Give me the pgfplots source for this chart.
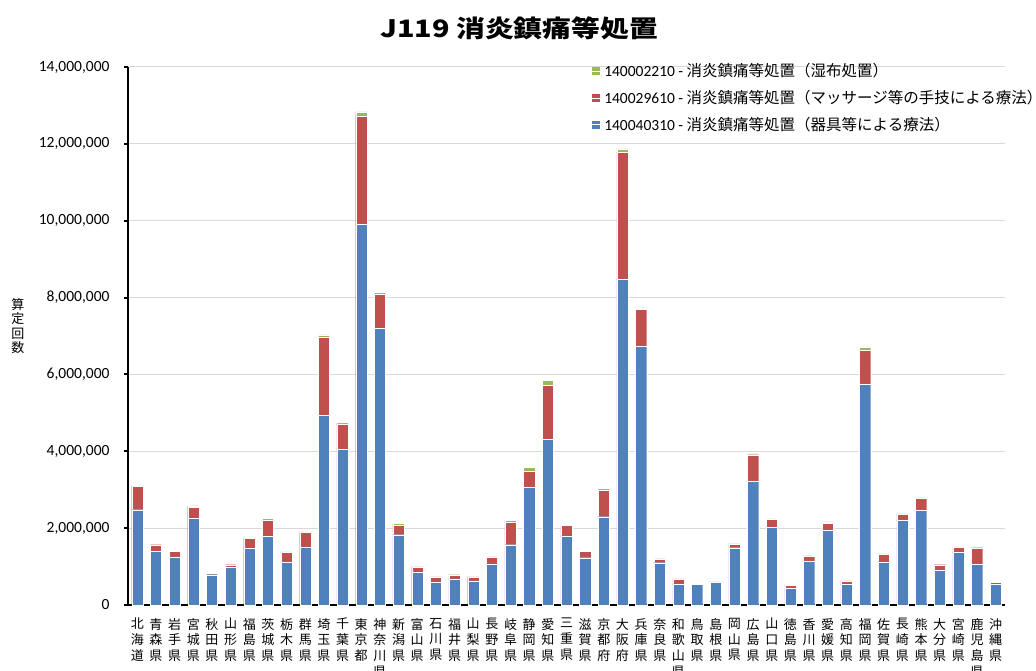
\documentclass[border=0pt]{standalone}
\usepackage{pgfplots}
\pgfplotsset{compat=1.18}
\usepackage{pgfplotstable}
\usepackage{fontspec}
\setmainfont{Carlito}
\newfontfamily\cjk{Noto Sans CJK JP}
\definecolor{cblue}{HTML}{4F81BD}
\definecolor{cred}{HTML}{C0504D}
\definecolor{cgreen}{HTML}{9BBB59}
\definecolor{cgrid}{HTML}{D9D9D9}

\pgfplotstableread{
idx blue red green
0 2480000 610000 20000
1 1390000 180000 10000
2 1240000 150000 10000
3 2250000 300000 30000
4 790000 30000 10000
5 980000 70000 10000
6 1470000 260000 10000
7 1800000 410000 50000
8 1110000 260000 10000
9 1500000 390000 10000
10 4930000 2050000 50000
11 4050000 670000 40000
12 9910000 2820000 100000
13 7210000 890000 40000
14 1830000 250000 50000
15 850000 140000 10000
16 590000 140000 10000
17 680000 100000 10000
18 630000 100000 10000
19 1060000 190000 10000
20 1570000 590000 40000
21 3060000 430000 90000
22 4310000 1410000 130000
23 1800000 270000 10000
24 1230000 160000 10000
25 2300000 700000 40000
26 8470000 3310000 90000
27 6730000 970000 30000
28 1100000 100000 20000
29 550000 130000 20000
30 540000 20000 10000
31 600000 20000 20000
32 1490000 100000 10000
33 3220000 690000 20000
34 2020000 210000 10000
35 440000 80000 20000
36 1130000 150000 20000
37 1950000 180000 30000
38 540000 90000 20000
39 5750000 880000 70000
40 1120000 200000 10000
41 2200000 170000 10000
42 2470000 320000 10000
43 900000 150000 10000
44 1370000 130000 10000
45 1070000 420000 10000
46 540000 50000 30000
}\datatable

\begin{document}
\begin{tikzpicture}
\useasboundingbox (0,0) rectangle (1036pt,670pt);
\node[font={\cjk\bfseries\fontsize{24}{27}\selectfont}] at (519pt,642pt) {\scalebox{1.2}[1]{J119 消炎鎮痛等処置}};
\node[font={\cjk\fontsize{13}{14.5}\selectfont}, align=center] at (18pt,344pt) {算\\定\\回\\数};
\begin{axis}[
  at={(128pt,65pt)}, anchor=south west,
  scale only axis, width=877pt, height=538pt,
  ybar stacked, bar width=0.6,
  xmin=-0.5, xmax=46.5, ymin=0, ymax=14000000,
  axis lines=left,
  axis line style={-, line width=2.5pt, black},
  ytick={0,2000000,...,14000000},
  scaled y ticks=false,
  yticklabel style={/pgf/number format/fixed, /pgf/number format/1000 sep={,}, /pgf/number format/assume math mode=true, font=\fontsize{15.5}{17}\selectfont, xshift=-11pt},
  ymajorgrids, grid style={cgrid, line width=1pt},
  tick align=outside,
  major tick length=4pt,
  ytick style={black, line width=2pt},
  xtick={0,...,46},
  xtick style={draw=none},
  minor xtick={-0.5,0.5,...,46.5},
  minor tick length=4pt,
  minor x tick style={black, line width=1.5pt},
  xticklabels={{北\\海\\道},{青\\森\\県},{岩\\手\\県},{宮\\城\\県},{秋\\田\\県},{山\\形\\県},{福\\島\\県},{茨\\城\\県},{栃\\木\\県},{群\\馬\\県},{埼\\玉\\県},{千\\葉\\県},{東\\京\\都},{神\\奈\\川\\県},{新\\潟\\県},{富\\山\\県},{石\\川\\県},{福\\井\\県},{山\\梨\\県},{長\\野\\県},{岐\\阜\\県},{静\\岡\\県},{愛\\知\\県},{三\\重\\県},{滋\\賀\\県},{京\\都\\府},{大\\阪\\府},{兵\\庫\\県},{奈\\良\\県},{和\\歌\\山\\県},{鳥\\取\\県},{島\\根\\県},{岡\\山\\県},{広\\島\\県},{山\\口\\県},{徳\\島\\県},{香\\川\\県},{愛\\媛\\県},{高\\知\\県},{福\\岡\\県},{佐\\賀\\県},{長\\崎\\県},{熊\\本\\県},{大\\分\\県},{宮\\崎\\県},{鹿\\児\\島\\県},{沖\\縄\\県}},
  xticklabel style={font={\cjk\fontsize{13}{15.7}\selectfont}, align=center, anchor=north, inner sep=0pt, yshift=-9pt},
  reverse legend,
  legend cell align=left,
  legend style={at={(axis description cs:0.5255,1.014)}, anchor=north west, draw=none, fill=none,
     font=\fontsize{15.5}{17}\selectfont, row sep=8pt},
  legend image code/.code={\fill[#1, draw=none] (0pt,-4pt) rectangle (8pt,4pt); \path (0pt,0pt) -- (10pt,0pt);},
]
\addplot[fill=cblue, draw=white, line width=0.2pt] table[x=idx, y=blue] {\datatable};
\addlegendentry{140040310 - {\cjk 消炎鎮痛等処置（器具等による療法）}}
\addplot[fill=cred, draw=white, line width=0.2pt] table[x=idx, y=red] {\datatable};
\addlegendentry{140029610 - {\cjk 消炎鎮痛等処置（マッサージ等の手技による療法）}}
\addplot[fill=cgreen, draw=white, line width=0.2pt] table[x=idx, y=green] {\datatable};
\addlegendentry{140002210 - {\cjk 消炎鎮痛等処置（湿布処置）}}
\end{axis}
\end{tikzpicture}
\end{document}
